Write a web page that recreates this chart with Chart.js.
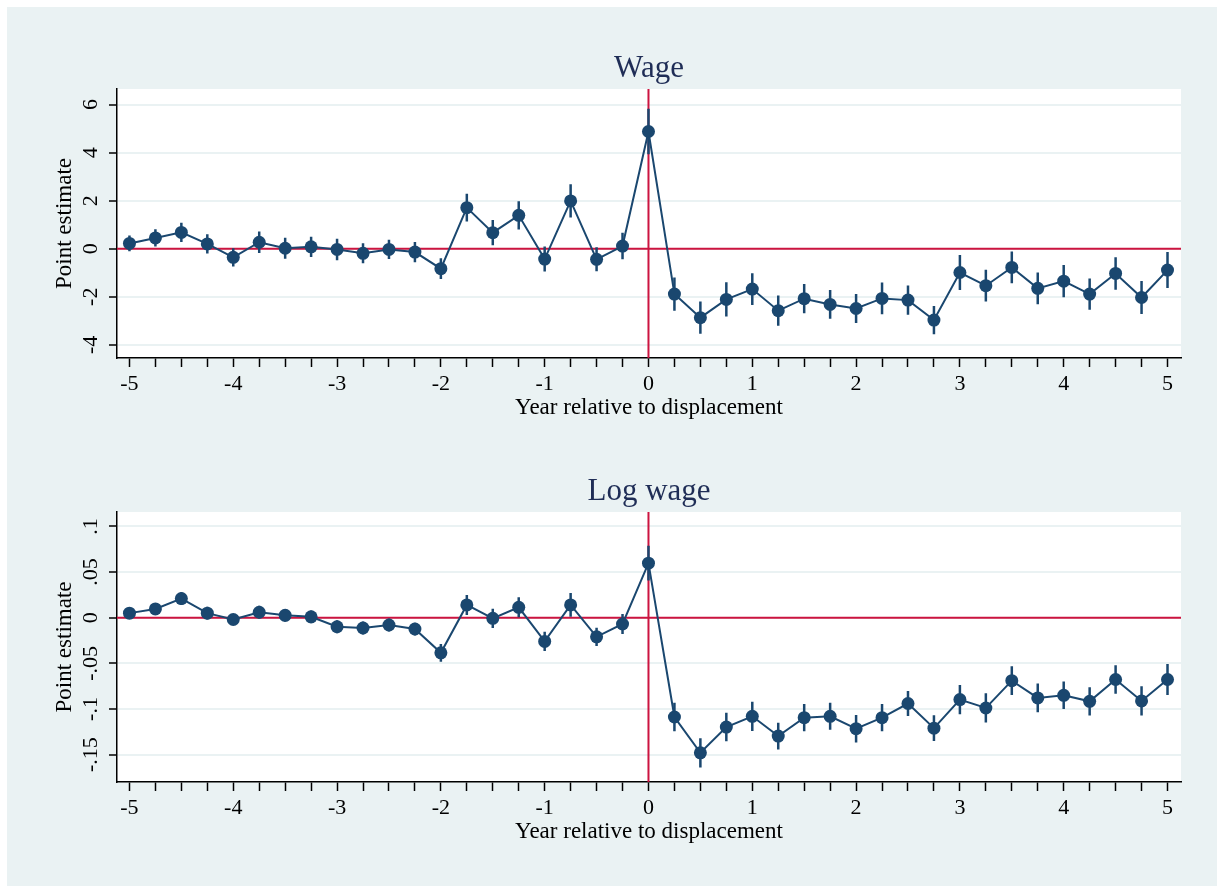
<!DOCTYPE html>
<html lang="en">
<head>
  <meta charset="UTF-8">
  <title>Wage and log wage around displacement</title>
  <style>
    html, body { margin: 0; padding: 0; background: #fff; }
    body { width: 1217px; height: 886px; position: relative; overflow: hidden; }
    #frame { position: absolute; left: 7px; top: 7px; right: 0; bottom: 0; background: #eaf2f3; }
    canvas { position: absolute; left: 0; }
    #wageChart { top: 0; }
    #logChart { top: 443px; }
  </style>
</head>
<body>
  <div id="frame"></div>
  <canvas id="wageChart" width="1217" height="443"></canvas>
  <canvas id="logChart" width="1217" height="443"></canvas>

  <script src="https://cdn.jsdelivr.net/npm/chart.js@4.4.1/dist/chart.umd.min.js"></script>
  <script>
    // years relative to displacement (quarters)
    const years = [-5, -4.75, -4.5, -4.25, -4, -3.75, -3.5, -3.25, -3, -2.75, -2.5, -2.25, -2, -1.75, -1.5, -1.25, -1, -0.75, -0.5, -0.25,
      0, 0.25, 0.5, 0.75, 1, 1.25, 1.5, 1.75, 2, 2.25, 2.5, 2.75, 3, 3.25, 3.5, 3.75, 4, 4.25, 4.5, 4.75, 5];
    const xLabels = [-5, -4, -3, -2, -1, 0, 1, 2, 3, 4, 5];

    // Wage panel
    const wage = [0.22, 0.45, 0.68, 0.20, -0.36, 0.27, 0.02, 0.08, -0.03, -0.19, -0.03, -0.14, -0.83, 1.71, 0.67, 1.39, -0.43, 1.99, -0.44, 0.11,
      4.88, -1.89, -2.87, -2.11, -1.68, -2.58, -2.08, -2.32, -2.49, -2.07, -2.14, -2.97, -0.99, -1.54, -0.78, -1.65, -1.35, -1.89, -1.03, -2.03, -0.89];
    const wageErr = [0.33, 0.36, 0.40, 0.40, 0.38, 0.45, 0.44, 0.42, 0.45, 0.42, 0.40, 0.42, 0.43, 0.58, 0.53, 0.59, 0.52, 0.69, 0.50, 0.55,
      0.95, 0.69, 0.67, 0.71, 0.66, 0.63, 0.61, 0.60, 0.60, 0.66, 0.61, 0.59, 0.73, 0.66, 0.66, 0.66, 0.67, 0.65, 0.68, 0.69, 0.75];
    const wageTicks = [-4, -2, 0, 2, 4, 6];
    const wageTickLabels = ['-4', '-2', '0', '2', '4', '6'];

    // Log wage panel
    const logWage = [0.005, 0.0096, 0.021, 0.005, -0.002, 0.006, 0.0026, 0.001, -0.0099, -0.0113, -0.008, -0.0124, -0.0385, 0.014, -0.0007, 0.0114, -0.026, 0.014, -0.021, -0.0069,
      0.0597, -0.1088, -0.148, -0.1198, -0.108, -0.1297, -0.1095, -0.108, -0.1216, -0.1095, -0.094, -0.121, -0.0897, -0.0989, -0.069, -0.0879, -0.085, -0.0916, -0.0677, -0.0912, -0.0677];
    const logWageErr = [0.006, 0.006, 0.007, 0.007, 0.006, 0.007, 0.007, 0.007, 0.007, 0.007, 0.007, 0.007, 0.0097, 0.011, 0.0106, 0.011, 0.0106, 0.013, 0.010, 0.011,
      0.019, 0.0157, 0.016, 0.0156, 0.016, 0.0147, 0.015, 0.0147, 0.015, 0.015, 0.0137, 0.014, 0.016, 0.016, 0.0157, 0.0157, 0.015, 0.0155, 0.0157, 0.016, 0.017];
    const logWageTicks = [-0.15, -0.1, -0.05, 0, 0.05, 0.1];
    const logWageTickLabels = ['-.15', '-.1', '-.05', '0', '.05', '.1'];

    const FONT = '"Liberation Serif", "Times New Roman", serif';
    const NAVY = '#1a476f';
    const RED = '#cc1440';

    const panelPlugin = {
      id: 'panel',
      beforeDraw(chart) {
        const a = chart.chartArea;
        const ctx = chart.ctx;
        ctx.save();
        ctx.fillStyle = '#fff';
        ctx.fillRect(a.left, a.top, a.right - a.left, a.bottom - a.top);
        ctx.restore();
      },
      beforeDatasetsDraw(chart, args, opts) {
        const a = chart.chartArea;
        const xs = chart.scales.x, ys = chart.scales.y;
        const ctx = chart.ctx;
        ctx.save();
        // reference lines at 0
        ctx.strokeStyle = RED;
        ctx.lineWidth = 2;
        ctx.beginPath();
        const y0 = ys.getPixelForValue(0), x0 = xs.getPixelForValue(0);
        ctx.moveTo(a.left, y0); ctx.lineTo(a.right, y0);
        ctx.moveTo(x0, a.top); ctx.lineTo(x0, a.bottom);
        ctx.stroke();
        // confidence intervals
        ctx.strokeStyle = NAVY;
        ctx.lineWidth = 2.5;
        ctx.beginPath();
        opts.values.forEach((v, i) => {
          const px = xs.getPixelForValue(years[i]);
          ctx.moveTo(px, ys.getPixelForValue(v - opts.err[i]));
          ctx.lineTo(px, ys.getPixelForValue(v + opts.err[i]));
        });
        ctx.stroke();
        ctx.restore();
      },
      afterDraw(chart, args, opts) {
        const a = chart.chartArea;
        const ys = chart.scales.y;
        const ctx = chart.ctx;
        ctx.save();
        ctx.fillStyle = '#000';
        ctx.font = '22px ' + FONT;
        ctx.textAlign = 'center';
        ctx.textBaseline = 'alphabetic';
        opts.yTicks.forEach((v, i) => {
          ctx.save();
          ctx.translate(a.left - 20, ys.getPixelForValue(v));
          ctx.rotate(-Math.PI / 2);
          ctx.fillText(opts.yLabels[i], 0, 0);
          ctx.restore();
        });
        ctx.fillStyle = '#1f2d56';
        ctx.font = '31px ' + FONT;
        ctx.fillText(opts.title, (a.left + a.right) / 2, a.top - 12);
        ctx.restore();
      }
    };

    function makePanel(id, title, values, err, yMin, yMax, yTicks, yLabels, padTop, padBottom) {
      return new Chart(document.getElementById(id), {
        type: 'line',
        data: {
          datasets: [{
            label: title,
            data: years.map((x, i) => ({ x: x, y: values[i] })),
            borderColor: NAVY,
            borderWidth: 2,
            backgroundColor: NAVY,
            pointBackgroundColor: NAVY,
            pointBorderWidth: 0,
            pointRadius: 6.5,
            tension: 0
          }]
        },
        options: {
          responsive: false,
          animation: false,
          events: [],
          layout: { padding: { left: 40, right: 36, top: padTop, bottom: padBottom } },
          plugins: {
            legend: { display: false },
            title: { display: false },
            tooltip: { enabled: false },
            panel: { title: title, values: values, err: err, yTicks: yTicks, yLabels: yLabels }
          },
          scales: {
            x: {
              type: 'linear',
              min: -5.12,
              max: 5.13,
              afterBuildTicks: s => { s.ticks = years.map(v => ({ value: v })); },
              afterFit: s => { s.height = 70; },
              ticks: {
                autoSkip: false, maxRotation: 0, minRotation: 0, padding: 4,
                color: '#000', font: { family: FONT, size: 22 },
                callback: v => xLabels.includes(v) ? String(v) : ''
              },
              grid: { drawOnChartArea: false, tickColor: '#000', tickLength: 9, tickWidth: 1.5 },
              border: { color: '#000', width: 1.5 },
              title: {
                display: true, text: 'Year relative to displacement', color: '#000',
                font: { family: FONT, size: 23 }, padding: { top: 0, bottom: 6 }
              }
            },
            y: {
              min: yMin,
              max: yMax,
              afterBuildTicks: s => { s.ticks = yTicks.map(v => ({ value: v })); },
              afterFit: s => { s.width = 77; },
              ticks: { display: false },
              grid: { color: '#eaf2f3', lineWidth: 2, tickColor: '#000', tickLength: 8, tickWidth: 1.5 },
              border: { color: '#000', width: 1.5 },
              title: {
                display: true, text: 'Point estimate', color: '#000',
                font: { family: FONT, size: 23 }, padding: { top: 11, bottom: 0 }
              }
            }
          }
        },
        plugins: [panelPlugin]
      });
    }

    makePanel('wageChart', 'Wage', wage, wageErr, -4.55, 6.65, wageTicks, wageTickLabels, 89, 15);
    makePanel('logChart', 'Log wage', logWage, logWageErr, -0.180, 0.1158, logWageTicks, logWageTickLabels, 69, 34);
  </script>
</body>
</html>
